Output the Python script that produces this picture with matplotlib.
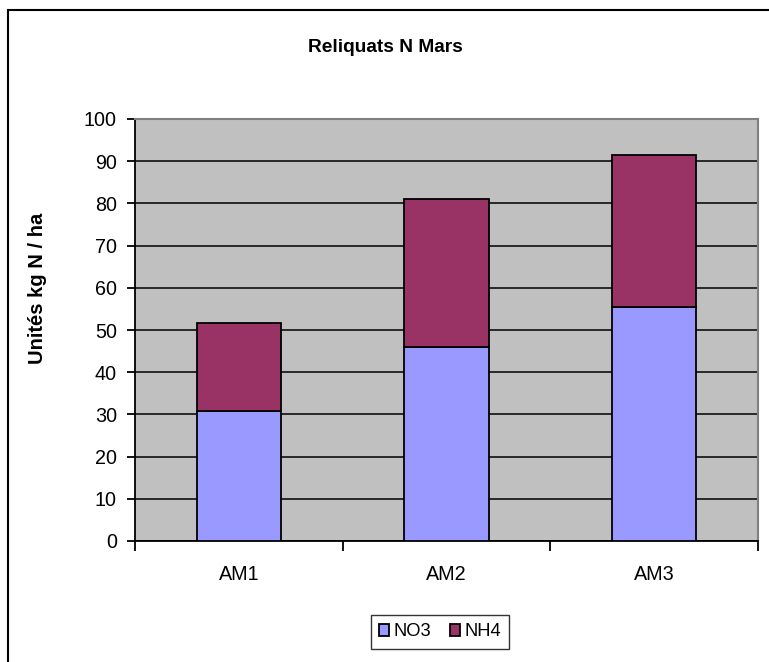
import numpy as np
import matplotlib
matplotlib.use('Agg')
import matplotlib.pyplot as plt
from matplotlib.patches import Rectangle

plt.rcParams['font.family'] = ['Liberation Sans', 'DejaVu Sans']

# values (kg N / ha)
sites = ['AM1', 'AM2', 'AM3']
no3 = [30.8, 45.9, 55.4]
nh4 = [20.9, 35.1, 36.1]

fig = plt.figure(figsize=(7.69, 6.62), dpi=100)
ax = fig.add_axes([135/769, 1 - 541/662, 623/769, 422/662])
ax.set_facecolor('#C0C0C0')

x = np.arange(len(sites))
w = 0.405
ax.bar(x, no3, w, color='#9999FF', edgecolor='black', linewidth=1.3, label='NO3', zorder=3)
ax.bar(x, nh4, w, bottom=no3, color='#993366', edgecolor='black', linewidth=1.3, label='NH4', zorder=3)

ax.set_xlim(-0.5, 2.5)
ax.set_ylim(0, 100)
ax.set_yticks(np.arange(0, 101, 10))
ax.yaxis.grid(True, color='black', linewidth=1.1, zorder=1)
ax.set_axisbelow(True)

# category labels in the middle, ticks at the boundaries
ax.set_xticks(x)
ax.set_xticklabels(sites)
ax.set_xticks(np.arange(-0.5, 3.0, 1.0), minor=True)
ax.tick_params(axis='x', which='major', length=0, pad=17, labelsize=14.2)
ax.tick_params(axis='x', which='minor', length=7, width=1.3, direction='out')
ax.tick_params(axis='y', length=6, width=1.3, direction='out', pad=7, labelsize=14.2)

for s in ['top', 'right']:
    ax.spines[s].set_color('#808080')
    ax.spines[s].set_linewidth(1.5)
for s in ['left', 'bottom']:
    ax.spines[s].set_color('black')
    ax.spines[s].set_linewidth(1.3)

fig.text(0.501, 1 - 47/662, 'Reliquats N Mars', ha='center', va='center',
         fontsize=13.8, fontweight='bold')
fig.text(38/769, 1 - 288/662, 'Unités kg N / ha', ha='center', va='center',
         rotation=90, fontsize=14.5, fontweight='bold')

leg = ax.legend(loc='center', bbox_to_anchor=(440/769, 1 - 632/662),
                bbox_transform=fig.transFigure, ncol=2, fontsize=13.2,
                frameon=True, fancybox=False, edgecolor='black',
                handlelength=0.55, handleheight=0.55, handletextpad=0.25,
                columnspacing=1.0, borderpad=0.45, borderaxespad=0)
leg.get_frame().set_linewidth(1.0)

# outer chart frame (cut off on the right and bottom)
fig.patches.append(Rectangle((8/769, -0.1), 2, 1 - 10/662 + 0.1, transform=fig.transFigure,
                             fill=False, edgecolor='black', linewidth=1.5))

fig.savefig('out.png', dpi=100)
